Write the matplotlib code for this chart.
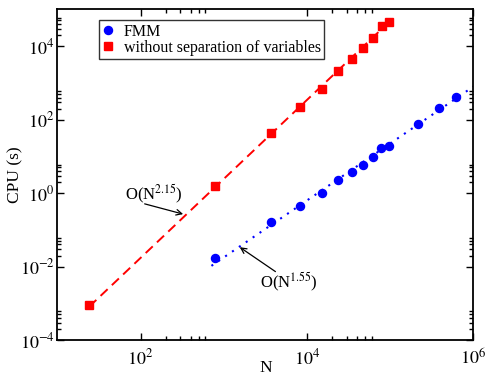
import numpy as np
import matplotlib
matplotlib.use("Agg")
import matplotlib.pyplot as plt
from matplotlib.ticker import FixedLocator, NullFormatter, FixedFormatter

# Data
n_direct = [24.2, 780, 3660, 8330, 15100, 23600, 34700, 46600, 62000, 79400, 97500]
cpu_direct = [9.0e-4, 1.52, 43, 216, 698, 2120, 4520, 9010, 17200, 35000, 46100]

n_fmm = [780, 3700, 8330, 15100, 23600, 34700, 46600, 61500, 78200, 97500, 217000, 391000, 610000]
cpu_fmm = [0.0175, 0.162, 0.459, 1.0, 2.21, 3.65, 5.80, 9.35, 16.5, 18.7, 74.3, 212, 416]

exp_direct = 2.15
exp_fmm = 1.55
fit_fmm_range = [711, 1.0e6]

x_major = [1e2, 1e4, 1e6]
x_major_labels = [r"$10^{2}$", r"$10^{4}$", r"$10^{6}$"]
y_major = [1e-4, 1e-2, 1e0, 1e2, 1e4]
y_major_labels = [r"$10^{-4}$", r"$10^{-2}$", r"$10^{0}$", r"$10^{2}$", r"$10^{4}$"]

plt.rcParams['font.family'] = ['Liberation Serif', 'DejaVu Serif']
plt.rcParams['mathtext.fontset'] = 'stix'

fig = plt.figure(figsize=(4.86, 3.77), dpi=100)
ax = fig.add_axes([0.118, 0.098, 0.856, 0.877])
ax.set_xscale('log')
ax.set_yscale('log')
ax.set_xlim(10, 1e6)
ax.set_ylim(1e-4, 1e5)

# fit lines
ld = np.log10(n_direct); lcd = np.log10(cpu_direct)
b_d = np.mean(lcd - exp_direct * ld)
xd = np.array([n_direct[0], n_direct[-1]])
ax.plot(xd, 10**(b_d) * xd**exp_direct, color='red', ls=(0, (5, 3)), lw=1.4, zorder=2)

lf = np.log10(n_fmm); lcf = np.log10(cpu_fmm)
b_f = np.mean(lcf - exp_fmm * lf)
xf = np.array(fit_fmm_range)
ax.plot(xf, 10**(b_f) * xf**exp_fmm, color='blue', ls=(0, (1, 3)), lw=1.5, zorder=2)

ax.plot(n_fmm, cpu_fmm, 'o', color='blue', ms=5.8, mec='blue', ls='none', label='FMM', zorder=3)
ax.plot(n_direct, cpu_direct, 's', color='red', ms=5.2, mec='red', ls='none',
        label='without separation of variables', zorder=3)

# ticks
ax.xaxis.set_major_locator(FixedLocator(x_major))
ax.xaxis.set_major_formatter(FixedFormatter(x_major_labels))
ax.yaxis.set_major_locator(FixedLocator(y_major))
ax.yaxis.set_major_formatter(FixedFormatter(y_major_labels))
xminor = [m * 10**e for e in [0, 2, 4] for m in [2, 3, 4, 5, 6]]
yminor = [m * 10**e for e in [-4, -2, 0, 2, 4] for m in [2, 3, 4, 5, 6]]
ax.xaxis.set_minor_locator(FixedLocator(xminor))
ax.yaxis.set_minor_locator(FixedLocator(yminor))
ax.xaxis.set_minor_formatter(NullFormatter())
ax.yaxis.set_minor_formatter(NullFormatter())
ax.tick_params(which='both', direction='in', top=True, right=True, labelsize=13, width=1.0)
ax.tick_params(axis='y', pad=2)
ax.tick_params(axis='x', pad=6)
ax.tick_params(which='major', length=5)
ax.tick_params(which='minor', length=3)
for s in ax.spines.values():
    s.set_linewidth(1.3)

ax.set_xlabel('N', fontsize=12.5)
ax.set_ylabel('CPU (s)', fontsize=12.5)
ax.xaxis.set_label_coords(0.5, -0.086)
ax.yaxis.set_label_coords(-0.102, 0.5)
ax.xaxis.label.set_va('center')
ax.yaxis.label.set_va('center')

leg = ax.legend(loc='upper left', bbox_to_anchor=(0.099, 0.967), fontsize=11.5, frameon=True,
                fancybox=False, edgecolor='black', handlelength=0.8, handletextpad=0.6,
                borderpad=0.2, labelspacing=0.02, borderaxespad=0)
leg.get_frame().set_linewidth(1.0)

ax.text(65, 0.9, r"O(N$^{2.15}$)", fontsize=12, ha='left', va='center')
ax.annotate('', xy=(325, 0.268), xytext=(112, 0.51),
            arrowprops=dict(arrowstyle='->', color='black', lw=0.9, shrinkA=0, shrinkB=0))
ax.text(2700, 0.0036, r"O(N$^{1.55}$)", fontsize=12, ha='left', va='center')
ax.annotate('', xy=(1556, 0.0337), xytext=(4180, 0.0073),
            arrowprops=dict(arrowstyle='->', color='black', lw=0.9, shrinkA=0, shrinkB=0))

fig.savefig('out.png', dpi=100)
